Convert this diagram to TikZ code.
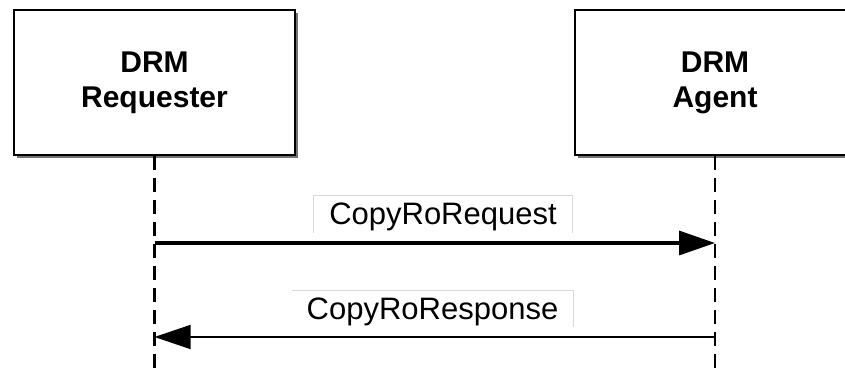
\documentclass[tikz,border=0pt]{standalone}
\usepackage{fontspec}
\setmainfont{Liberation Sans}
\usetikzlibrary{arrows.meta,shadows}

\begin{document}
\begin{tikzpicture}[x=1pt,y=-1pt,
    actor/.style={draw,line width=2pt,fill=white,minimum width=281pt,
        minimum height=145pt,inner sep=0pt,align=center,
        font=\fontsize{30}{35}\selectfont\bfseries,
        drop shadow={shadow xshift=3pt,shadow yshift=-3pt,fill=black!55,opacity=1}},
    lifeline/.style={line width=2.5pt,dash pattern=on 14pt off 8pt},
    msg/.style={fill=white,inner sep=0pt,text height=23pt,text depth=3pt,
        font=\fontsize{31}{36}\selectfont},
    msgedge/.style={draw=black!15,line width=1pt},
    tip/.style={-{Triangle[length=36pt,width=24pt]}}]
            \clip (0,0) rectangle (845,374);

            \node[actor] (req)   at (154.5,82.5) {DRM\\Requester};
            \node[actor] (agent) at (715,82.5)   {DRM\\Agent};

            \coordinate (reqend)   at (154.5,374);
            \coordinate (agentend) at (715,374);
            \draw[lifeline] (req.south)   -- (reqend);
            \draw[lifeline] (agent.south) -- (agentend);

            % CopyRoRequest
            \node[msg,minimum width=258pt,minimum height=37pt]
                (rqlabel) at (443,214.5) {CopyRoRequest};
            \draw[msgedge] (rqlabel.south west) -- (rqlabel.north west)
                -- (rqlabel.north east) -- (rqlabel.south east);
            \coordinate (rqfrom) at (154.5,243);
            \coordinate (rqto)   at (715,243);
            \draw[tip,line width=3.5pt] (rqfrom) -- (rqto);

            % CopyRoResponse
            \node[msg,minimum width=281pt,minimum height=36pt]
                (rslabel) at (432.5,309) {CopyRoResponse};
            \draw[msgedge] (rslabel.north west)
                -- (rslabel.north east) -- (rslabel.south east);
            \coordinate (rsfrom) at (715,337);
            \coordinate (rsto)   at (154.5,337);
            \draw[tip,line width=1.5pt] (rsfrom) -- (rsto);
\end{tikzpicture}
\end{document}
